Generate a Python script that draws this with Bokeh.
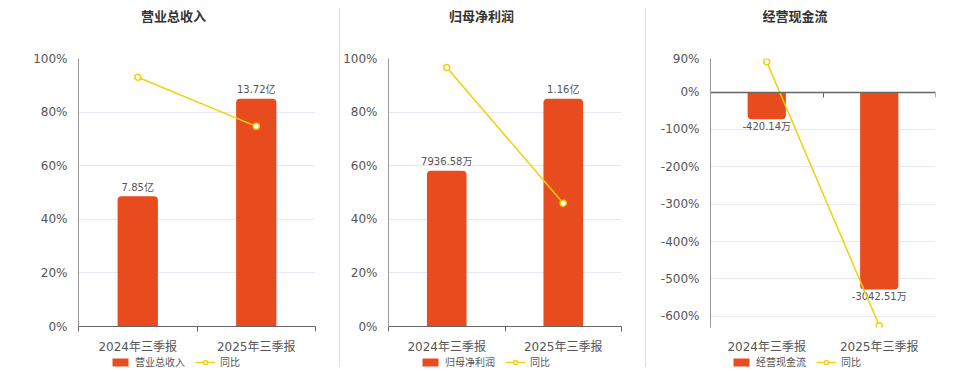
from bokeh.plotting import figure
from bokeh.models import (Range1d, FixedTicker, PrintfTickFormatter, LinearAxis, Legend,
                          LegendItem, Div, ColumnDataSource)
from bokeh.layouts import row, column
from bokeh.core.properties import value
from bokeh.embed import file_html
from bokeh.resources import INLINE

# ---------------- data ----------------
categories = ["2024年三季报", "2025年三季报"]

titles = ["营业总收入", "归母净利润", "经营现金流"]

revenue = [7.85, 13.72]            # 亿
revenue_labels = ["7.85亿", "13.72亿"]
revenue_yoy = [93.0, 74.7]         # %

profit = [7936.58, 11600.0]        # 万
profit_labels = ["7936.58万", "1.16亿"]
profit_yoy = [96.6, 46.0]          # %

cashflow = [-420.14, -3042.51]     # 万
cashflow_labels = ["-420.14万", "-3042.51万"]
cashflow_yoy = [81.0, -625.0]      # %

# ---------------- style ----------------
BAR = "#E84C1E"
LINE = "#F3D00F"
FONT = "DejaVu Sans, Noto Sans CJK SC"
GRID = "#E6E9F2"
TXT = "#555555"

TITLE_H = 34
LEG_H = 16
H = 372 - TITLE_H - LEG_H


def make_panel(title, bars, labels, yoy, width, bl, br, yr, yticks, bar_range,
               title_dx, legend_x, negative=False):
    p = figure(width=width, height=H, output_backend="svg", toolbar_location=None,
               x_range=Range1d(0, 2), y_range=Range1d(*yr),
               min_border_left=bl, min_border_right=br, min_border_top=24, min_border_bottom=22,
               x_axis_location=None, y_axis_location=None)
    p.outline_line_color = None
    p.background_fill_color = "white"
    p.border_fill_color = "white"
    p.extra_y_ranges = {"bar": Range1d(*bar_range)}

    xs = [i + 0.5 for i in range(len(categories))]

    # y axis
    yax = LinearAxis(ticker=FixedTicker(ticks=yticks),
                     formatter=PrintfTickFormatter(format="%d%%"))
    yax.axis_line_color = "#999999"
    yax.major_tick_line_color = None
    yax.minor_tick_line_color = None
    yax.major_label_standoff = 5
    yax.major_label_text_font = FONT
    yax.major_label_text_font_size = "12px"
    yax.major_label_text_color = TXT
    if negative:
        yax.major_label_overrides = {yr[0]: ""}
    p.add_layout(yax, "left")

    # x axis
    xax = LinearAxis(ticker=FixedTicker(ticks=xs, minor_ticks=[0, 1, 2]))
    xax.major_label_overrides = {x: c for x, c in zip(xs, categories)}
    xax.major_tick_line_color = None
    xax.major_tick_out = 0
    xax.major_label_standoff = 8
    xax.major_label_text_font = FONT
    xax.major_label_text_font_size = "12px"
    xax.major_label_text_color = TXT
    if negative:
        xax.axis_line_color = None
        xax.minor_tick_line_color = None
        zax = LinearAxis(fixed_location=0, ticker=FixedTicker(ticks=[], minor_ticks=[0, 1, 2]))
        zax.axis_line_color = "#666666"
        zax.axis_line_width = 1.5
        zax.minor_tick_line_color = "#666666"
        zax.minor_tick_in = 0
        zax.minor_tick_out = 5
        zax.major_label_text_font_size = "0px"
        p.add_layout(zax, "below")
    else:
        xax.axis_line_color = "#666666"
        xax.minor_tick_line_color = "#666666"
        xax.minor_tick_in = 0
        xax.minor_tick_out = 5
    p.add_layout(xax, "below")

    p.xgrid.visible = False
    p.ygrid.grid_line_color = GRID
    p.ygrid.ticker = FixedTicker(ticks=yticks)

    src = ColumnDataSource(dict(x=xs, bar=bars, lab=labels, yoy=yoy))

    radius = (0, 0, 4, 4) if negative else (4, 4, 0, 0)
    p.vbar(x="x", top="bar", bottom=0, width=0.34, source=src, y_range_name="bar",
           fill_color=BAR, line_color=None, border_radius=radius)

    p.text(x="x", y="bar", text="lab", source=src, y_range_name="bar",
           text_align="center", text_baseline="middle",
           y_offset=7 if negative else -9,
           text_font=value(FONT), text_font_size="10px", text_color=TXT)

    p.line(x="x", y="yoy", source=src, line_color=LINE, line_width=1.5)
    p.scatter(x="x", y="yoy", source=src, size=6, line_color=LINE, line_width=1.5,
              fill_color="white")

    # legend strip: a small figure whose ranges lie far away from the data,
    # so only the legend (which needs live renderers) is visible
    lg = figure(width=width, height=LEG_H, output_backend="svg", toolbar_location=None,
                x_range=Range1d(100, 101), y_range=Range1d(100000, 100001),
                min_border_left=bl, min_border_right=br, min_border_top=0, min_border_bottom=0,
                x_axis_location=None, y_axis_location=None)
    lg.outline_line_color = None
    lg.xgrid.visible = False
    lg.ygrid.visible = False
    lb = lg.vbar(x="x", top="bar", width=0.34, source=src, fill_color=BAR, line_color=None)
    ll = lg.line(x="x", y="yoy", source=src, line_color=LINE, line_width=1.5)
    ls = lg.scatter(x="x", y="yoy", source=src, size=6, line_color=LINE, line_width=1.5,
                    fill_color="white")
    legend = Legend(items=[LegendItem(label=title, renderers=[lb]),
                           LegendItem(label="同比", renderers=[ll, ls])],
                    orientation="horizontal", location=(legend_x, 3))
    legend.border_line_color = None
    legend.background_fill_alpha = 0
    legend.padding = 0
    legend.margin = 0
    legend.spacing = 10
    legend.glyph_width = 20
    legend.glyph_height = 10
    legend.label_height = 10
    legend.label_standoff = 5
    legend.label_text_font = FONT
    legend.label_text_font_size = "10px"
    legend.label_text_color = TXT
    lg.add_layout(legend, "center")

    head = Div(text=(f'<div style="position:relative;left:{title_dx}px;width:{width}px;'
                     f'text-align:center;line-height:{TITLE_H}px;font-size:13px;font-weight:bold;'
                     f'color:#333333;font-family:{FONT};white-space:nowrap;">{title}</div>'),
               width=width, height=TITLE_H, margin=0)
    return column(head, p, lg, spacing=0)


p1 = make_panel(titles[0], revenue, revenue_labels, revenue_yoy, 339, 78, 24,
                (0, 100), [0, 20, 40, 60, 80, 100], (0, 13.72 / 0.85), 4, 32)
p2 = make_panel(titles[1], profit, profit_labels, profit_yoy, 305, 44, 24,
                (0, 100), [0, 20, 40, 60, 80, 100], (0, 11600.0 / 0.85), -11, 32)
p3 = make_panel(titles[2], cashflow, cashflow_labels, cashflow_yoy, 314, 64, 25,
                (-630, 90), [-630, -600, -500, -400, -300, -200, -100, 0, 90],
                (-3630.3, 518.6), -8, 21, negative=True)

sep1 = Div(text="", width=1, height=359, margin=(8, 0, 0, 0), styles={"background-color": "#DDDDDD"})
sep2 = Div(text="", width=1, height=359, margin=(8, 0, 0, 0), styles={"background-color": "#DDDDDD"})

layout = row(p1, sep1, p2, sep2, p3, spacing=0)

open("out.html", "w").write(file_html(layout, INLINE))
